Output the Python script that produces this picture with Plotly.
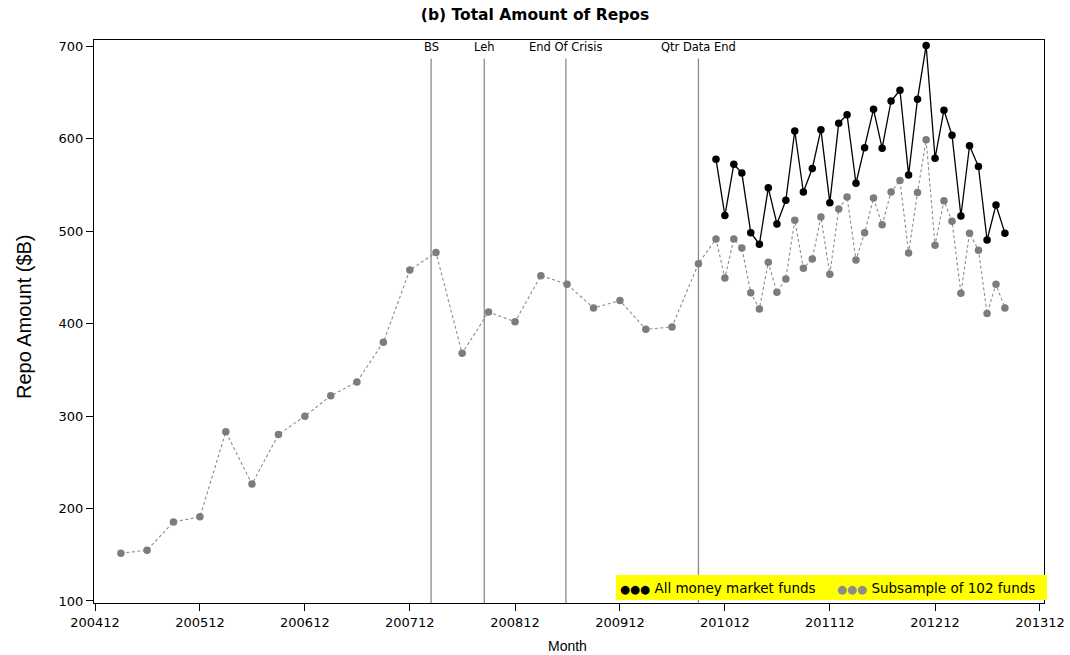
import pandas as pd
import plotly.graph_objects as go

# ---------------- data ----------------
sub_months = ["200503", "200506", "200509", "200512",
              "200603", "200606", "200609", "200612",
              "200703", "200706", "200709", "200712",
              "200803", "200806", "200809", "200812",
              "200903", "200906", "200909", "200912",
              "201003", "201006", "201009",
              "201011", "201012",
              "201101", "201102", "201103", "201104", "201105", "201106",
              "201107", "201108", "201109", "201110", "201111", "201112",
              "201201", "201202", "201203", "201204", "201205", "201206",
              "201207", "201208", "201209", "201210", "201211", "201212",
              "201301", "201302", "201303", "201304", "201305", "201306",
              "201307", "201308"]
sub_values = [151.6, 155, 185.5, 191,
              283, 226.6, 280, 300,
              322, 337, 380, 458,
              477, 368, 412.7, 402,
              452, 442.7, 417, 425,
              394, 396.5, 465,
              491.7, 449.5,
              491.7, 482, 433.6, 416, 466.5, 434,
              448.4, 512, 460, 470, 515.5, 453.5,
              524, 537, 469, 498.5, 536, 507,
              542.5, 555, 476.5, 542, 599, 485,
              533, 511, 433, 498, 479.5, 411,
              442.7, 417]

all_months = ["201011", "201012",
              "201101", "201102", "201103", "201104", "201105", "201106",
              "201107", "201108", "201109", "201110", "201111", "201112",
              "201201", "201202", "201203", "201204", "201205", "201206",
              "201207", "201208", "201209", "201210", "201211", "201212",
              "201301", "201302", "201303", "201304", "201305", "201306",
              "201307", "201308"]
all_values = [578, 517,
              572.5, 563, 498.5, 486, 547, 508,
              533.6, 608.5, 542.5, 568, 610, 531,
              617, 626, 552, 590.5, 632, 590,
              641, 652.6, 561, 643, 701, 579,
              631, 604, 516.6, 592.6, 570, 490.6,
              528.5, 498]

tick_labels = ["200412", "200512", "200612", "200712", "200812",
               "200912", "201012", "201112", "201212", "201312"]

event_names = ["BS", "Leh", "End Of Crisis", "Qtr Data End"]
event_dates = ["2008-03-14", "2008-09-15", "2009-06-26", "2010-09-30"]

series_names = ["All money market funds", "Subsample of 102 funds"]


def month_end(labels):
    return [pd.Timestamp(l[:4] + "-" + l[4:] + "-01") + pd.offsets.MonthEnd(0) for l in labels]


GRAY = "#7c7c7c"

fig = go.Figure()

fig.add_trace(go.Scatter(
    x=month_end(sub_months), y=sub_values, mode="lines+markers",
    name=series_names[1],
    line=dict(color="#8c8c8c", width=1.1, dash="3px,2.5px"),
    marker=dict(color=GRAY, size=7.5, symbol="circle"),
    showlegend=False))

fig.add_trace(go.Scatter(
    x=month_end(all_months), y=all_values, mode="lines+markers",
    name=series_names[0],
    line=dict(color="black", width=1.3),
    marker=dict(color="black", size=7.5, symbol="circle"),
    showlegend=False))

# event lines and labels
for name, d in zip(event_names, event_dates):
    fig.add_shape(type="line", xref="x", yref="paper", x0=d, x1=d, y0=0, y1=0.967,
                  line=dict(color="#8a8a8a", width=1.3), layer="below")
    fig.add_annotation(x=d, xref="x", y=0.987, yref="paper", text=name, showarrow=False,
                       font=dict(family="DejaVu Sans", size=11.5, color="black"),
                       xanchor="center", yanchor="middle")

# legend box (paper coordinates of the plot area)
PL, PW, PB, PH = 94, 950, 603, 563
def px(x):
    return (x - PL) / PW
def py(y):
    return (PB - y) / PH

fig.add_shape(type="rect", xref="paper", yref="paper",
              x0=px(616), x1=px(1047), y0=py(600), y1=py(575),
              fillcolor="#ffff00", line=dict(width=0), layer="above")
fig.add_annotation(xref="paper", yref="paper", x=px(618), y=py(587.5),
                   text="<span style='color:black;font-size:11.5px'>●●●</span> " + series_names[0],
                   showarrow=False, xanchor="left", yanchor="middle",
                   font=dict(family="DejaVu Sans", size=13.5, color="black"))
fig.add_annotation(xref="paper", yref="paper", x=px(835), y=py(587.5),
                   text="<span style='color:#8c8c8c;font-size:11.5px'>●●●</span> " + series_names[1],
                   showarrow=False, xanchor="left", yanchor="middle",
                   font=dict(family="DejaVu Sans", size=13.5, color="black"))

# axis titles
fig.add_annotation(xref="paper", yref="paper", x=px(567), y=py(646),
                   text="Month", showarrow=False, xanchor="center", yanchor="middle",
                   font=dict(family="Liberation Sans", size=14, color="black"))
fig.add_annotation(xref="paper", yref="paper", x=px(24), y=py(317),
                   text="Repo Amount ($B)", showarrow=False, textangle=-90,
                   xanchor="center", yanchor="middle",
                   font=dict(family="Liberation Sans", size=20, color="black"))

tick_vals = [pd.Timestamp(t[:4] + "-" + t[4:] + "-01") + pd.offsets.MonthEnd(0) for t in tick_labels]

fig.update_layout(
    width=1070, height=655,
    margin=dict(l=94, r=26, t=40, b=52, autoexpand=False),
    paper_bgcolor="white", plot_bgcolor="white",
    title=dict(text="<b>(b) Total Amount of Repos</b>", x=0.5, xanchor="center",
               y=1 - 15 / 655, yanchor="middle", yref="container",
               font=dict(family="DejaVu Sans", size=15.5, color="black")),
    xaxis=dict(
        type="date", automargin=False,
        range=["2004-12-27 12:00", "2014-01-14"],
        tickvals=tick_vals, ticktext=tick_labels,
        showgrid=False, zeroline=False,
        showline=True, linecolor="black", linewidth=1.3, mirror=True,
        ticks="outside", ticklen=7, tickcolor="black", tickwidth=1.2,
        tickfont=dict(family="DejaVu Sans", size=13, color="black"),
    ),
    yaxis=dict(
        automargin=False,
        range=[97.8, 707],
        tickvals=[100, 200, 300, 400, 500, 600, 700],
        showgrid=False, zeroline=False,
        showline=True, linecolor="black", linewidth=1.3, mirror=True,
        ticks="outside", ticklen=7, tickcolor="black", tickwidth=1.2,
        tickfont=dict(family="DejaVu Sans", size=13, color="black"),
    ),
)

fig.write_html("out.html")
